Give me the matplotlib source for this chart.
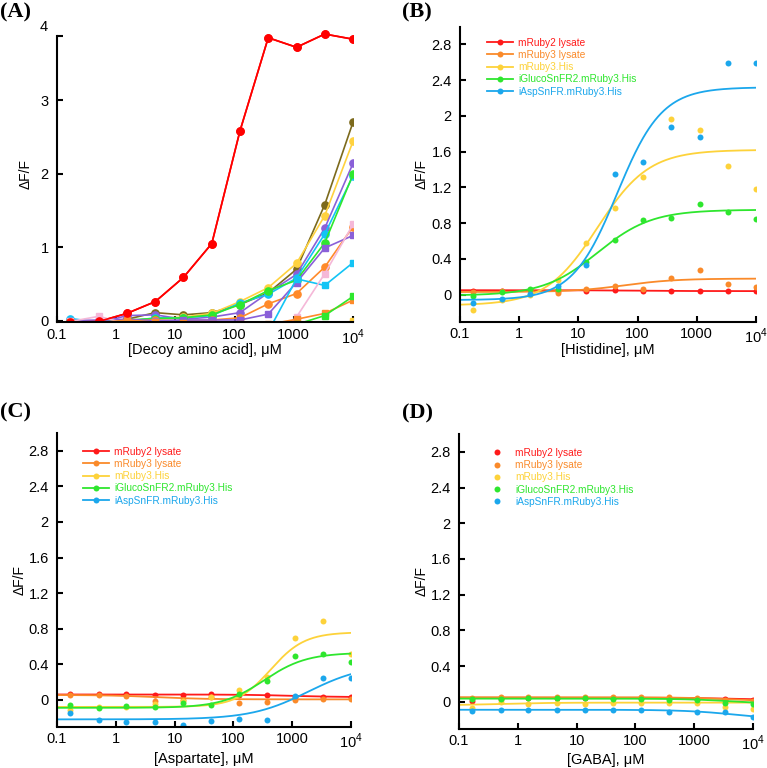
import numpy as np
import matplotlib
matplotlib.use("Agg")
import matplotlib.pyplot as plt
from matplotlib.lines import Line2D
import matplotlib.transforms as mtransforms

plt.rcParams['font.family'] = ['Liberation Sans', 'DejaVu Sans']
plt.rcParams['mathtext.fontset'] = 'custom'
plt.rcParams['mathtext.rm'] = 'Liberation Sans'

# concentrations (uM), 3-fold dilution series
conc = [0.169, 0.508, 1.52, 4.57, 13.7, 41.2, 123, 370, 1111, 3333, 10000]

# ---- panel A: decoy amino acids ----
decoy_colors = ['#ff0000', '#7c6a1c', '#ffd23f', '#8a60d8', '#13c4f5', '#2ee82e', '#ff8a2a',
                '#8a60d8', '#13c4f5', '#f5b8d8', '#ff8a2a', '#2ee82e', '#ffd23f']
decoy_markers = ['o', 'o', 'o', 'o', 'o', 'o', 'o', 's', 's', 's', 's', 's', 's']
decoy_vals = [
    [-0.02, -0.01, 0.10, 0.26, 0.59, 1.05, 2.58, 3.85, 3.72, 3.90, 3.83],
    [-0.01, -0.02, 0.02, 0.11, 0.08, 0.11, 0.22, 0.38, 0.70, 1.58, 2.70],
    [-0.03, -0.02, 0.00, 0.03, 0.05, 0.10, 0.26, 0.45, 0.78, 1.43, 2.44],
    [-0.03, -0.03, 0.07, 0.08, 0.02, 0.05, 0.11, 0.38, 0.63, 1.26, 2.14],
    [0.03, -0.02, -0.01, 0.04, 0.04, 0.07, 0.24, 0.36, 0.58, 1.18, 1.97],
    [-0.02, -0.02, 0.01, 0.03, 0.04, 0.08, 0.22, 0.41, 0.55, 1.06, 1.99],
    [-0.03, -0.04, 0.00, 0.01, 0.00, 0.01, 0.04, 0.23, 0.37, 0.73, 1.28],
    [0.00, 0.01, 0.02, 0.00, 0.01, 0.01, 0.01, 0.09, 0.52, 0.99, 1.16],
    [-0.08, -0.10, -0.10, -0.10, -0.10, -0.10, -0.10, -0.15, 0.57, 0.48, 0.79],
    [-0.01, 0.06, -0.04, -0.02, -0.10, -0.20, -0.30, -0.30, 0.05, 0.64, 1.31],
    [-0.02, -0.03, 0.01, -0.02, -0.03, -0.05, -0.05, -0.05, 0.02, 0.10, 0.28],
    [-0.05, -0.05, -0.10, -0.10, -0.10, -0.15, -0.20, -0.10, -0.05, 0.07, 0.33],
    [-0.06, -0.10, -0.10, -0.10, -0.10, -0.10, -0.10, -0.10, -0.10, -0.10, 0.00],
]

# ---- panels B-D ----
sensor_names = ['mRuby2 lysate', 'mRuby3 lysate', 'mRuby3.His',
                'iGlucoSnFR2.mRuby3.His', 'iAspSnFR.mRuby3.His']
sensor_colors = ['#ff1a1a', '#fa8a2a', '#fdd23a', '#2ee62e', '#1ba7ec']

his_vals = [
    [0.04, 0.04, 0.05, 0.04, 0.04, 0.05, 0.04, 0.04, 0.04, 0.04, 0.04],
    [0.03, 0.04, 0.05, 0.02, 0.06, 0.10, 0.06, 0.19, 0.28, 0.12, 0.09],
    [-0.17, -0.06, 0.00, 0.16, 0.58, 0.97, 1.32, 1.96, 1.84, 1.44, 1.18],
    [-0.01, 0.03, 0.06, 0.06, 0.37, 0.61, 0.84, 0.86, 1.02, 0.93, 0.85],
    [-0.09, -0.05, 0.01, 0.10, 0.33, 1.35, 1.48, 1.88, 1.76, 2.59, 2.59],
]
asp_vals = [
    [0.06, 0.06, 0.06, 0.05, 0.05, 0.06, 0.05, 0.05, 0.03, 0.03, 0.03],
    [0.05, 0.05, 0.04, -0.01, 0.00, 0.03, -0.04, -0.03, 0.00, 0.01, 0.01],
    [-0.11, -0.08, -0.08, -0.05, -0.01, 0.03, 0.11, 0.26, 0.69, 0.89, 0.52],
    [-0.06, -0.09, -0.07, -0.08, -0.04, -0.06, 0.07, 0.21, 0.49, 0.52, 0.42],
    [-0.15, -0.23, -0.25, -0.25, -0.28, -0.24, -0.22, -0.23, 0.04, 0.24, 0.24],
]
gaba_vals = [
    [0.01, 0.03, 0.04, 0.04, 0.04, 0.04, 0.04, 0.045, 0.03, 0.03, 0.015],
    [0.04, 0.05, 0.05, 0.05, 0.05, 0.05, 0.05, 0.05, 0.04, 0.02, 0.01],
    [-0.07, 0.00, -0.02, -0.01, -0.02, -0.01, -0.01, -0.01, -0.01, -0.06, -0.08],
    [0.03, 0.03, 0.045, 0.04, 0.04, 0.03, 0.03, 0.02, 0.02, -0.01, -0.02],
    [-0.10, -0.09, -0.09, -0.09, -0.09, -0.09, -0.09, -0.12, -0.12, -0.12, -0.17],
]

# Hill fit parameters: bottom, top, EC50 (uM), Hill slope
his_bottom = [0.05, 0.03, -0.12, -0.01, -0.06]
his_top = [0.04, 0.18, 1.62, 0.95, 2.32]
his_ec50 = [100, 60, 21, 21, 45]
his_n = [1.0, 1.0, 1.0, 0.95, 1.15]

asp_bottom = [0.06, 0.055, -0.08, -0.09, -0.22]
asp_top = [0.03, 0.005, 0.76, 0.53, 0.40]
asp_ec50 = [1000, 5, 430, 333, 1850]
asp_n = [1.0, 1.0, 1.5, 1.2, 0.9]

gaba_bottom = [0.045, 0.05, -0.04, 0.035, -0.09]
gaba_top = [0.02, 0.0, -0.01, -0.03, -0.20]
gaba_ec50 = [5000, 5000, 0.5, 5000, 5000]
gaba_n = [1.0, 1.0, 1.0, 1.0, 1.0]

xtick_vals = [0.1, 1, 10, 100, 1000, 10000]
xtick_labels = ['0.1', '1', '10', '100', '1000', '10$^4$']
ytick_vals = [0, 0.4, 0.8, 1.2, 1.6, 2.0, 2.4, 2.8]
ytick_labels = ['0', '0.4', '0.8', '1.2', '1.6', '2', '2.4', '2.8']


def hill(x, bottom, top, ec50, n):
    return bottom + (top - bottom) / (1 + (ec50 / x) ** n)


def style_axes(ax):
    ax.set_xscale('log')
    ax.set_xlim(0.1, 10000)
    ax.set_xticks(xtick_vals)
    ax.set_xticklabels(xtick_labels)
    ax.minorticks_off()
    ax.spines['top'].set_visible(False)
    ax.spines['right'].set_visible(False)
    for s in ['left', 'bottom']:
        ax.spines[s].set_linewidth(1.5)
    ax.tick_params(direction='in', length=4, width=1.5, labelsize=10.5, pad=4)
    ax.tick_params(axis='y', pad=6)


fig = plt.figure(figsize=(7.67, 7.68), dpi=100)
W, H = 767, 768


def add_axes(left, right, top, bottom):
    return fig.add_axes([left / W, 1 - bottom / H, (right - left) / W, (bottom - top) / H])


axA = add_axes(57, 353, 26.7, 322.2)
axB = add_axes(460, 756, 26.5, 321.5)
axC = add_axes(57, 351, 433, 726.5)
axD = add_axes(459, 753, 434, 728.5)

# panel A
for vals, c, m in zip(decoy_vals, decoy_colors, decoy_markers):
    ms = 5.2 if m == 'o' else 4.4
    axA.plot(conc, vals, color=c, marker=m, ms=ms, lw=1.2, mec=c, mfc=c)
# redraw red on top
axA.plot(conc, decoy_vals[0], color=decoy_colors[0], marker='o', ms=5.2, lw=1.2)
style_axes(axA)
axA.set_ylim(-0.02, 4.0)
axA.spines['left'].set_bounds(-0.02, 3.88)
axA.set_yticks([0, 1, 2, 3, 3.88])
axA.set_yticklabels(['0', '1', '2', '3', ''])
axA.text(-0.03, 4.0, '4', transform=mtransforms.blended_transform_factory(axA.transAxes, axA.transData),
         ha='right', va='center', fontsize=10.5)
axA.set_xlabel('[Decoy amino acid], \u03bcM', fontsize=10.5)
axA.set_ylabel('\u0394F/F', fontsize=10)
axA.xaxis.set_label_coords(0.5, -0.094)
axA.yaxis.set_label_coords(-0.105, 0.5)

xfit = np.logspace(-1, 4, 300)
panels = [
    (axB, his_vals, his_bottom, his_top, his_ec50, his_n, '[Histidine], \u03bcM', True, (0.09, 0.962), (-0.129, -0.097)),
    (axC, asp_vals, asp_bottom, asp_top, asp_ec50, asp_n, '[Aspartate], \u03bcM', True, (0.087, 0.953), (-0.126, -0.111)),
    (axD, gaba_vals, gaba_bottom, gaba_top, gaba_ec50, gaba_n, '[GABA], \u03bcM', False, (0.085, 0.953), (-0.127, -0.107)),
]

for ax, vals, bots, tops, ecs, ns, xlab, lined, leg_pos, lab_pos in panels:
    handles = []
    for i in range(5):
        c = sensor_colors[i]
        ax.plot(conc, vals[i], 'o', color=c, ms=4.3, mec='none')
        ax.plot(xfit, hill(xfit, bots[i], tops[i], ecs[i], ns[i]), color=c, lw=1.3)
        handles.append(Line2D([], [], color=c, marker='o', ms=4.3, mec='none',
                              lw=1.3 if lined else 0))
    style_axes(ax)
    ax.set_ylim(-0.3, 3.0)
    ax.set_yticks(ytick_vals)
    ax.set_yticklabels(ytick_labels)
    ax.set_xlabel(xlab, fontsize=10.5)
    ax.set_ylabel('\u0394F/F', fontsize=10)
    ax.xaxis.set_label_coords(0.5, lab_pos[1])
    ax.yaxis.set_label_coords(lab_pos[0], 0.5)
    leg = ax.legend(handles, sensor_names, loc='upper left', bbox_to_anchor=leg_pos,
                    frameon=False, fontsize=7.3, handlelength=2.6, handletextpad=0.5,
                    labelspacing=0.22, borderpad=0, borderaxespad=0)
    for txt, c in zip(leg.get_texts(), sensor_colors):
        txt.set_color(c)

for ax in [axA, axB, axC, axD]:
    ax.xaxis.label.set_va('center')
    ax.yaxis.label.set_va('center')

fig.text(0 / W, 1 - 12 / H, '(A)', fontsize=16, fontweight='bold', family='Liberation Serif', va='center')
fig.text(402 / W, 1 - 12 / H, '(B)', fontsize=16, fontweight='bold', family='Liberation Serif', va='center')
fig.text(0 / W, 1 - 412 / H, '(C)', fontsize=16, fontweight='bold', family='Liberation Serif', va='center')
fig.text(402 / W, 1 - 413 / H, '(D)', fontsize=16, fontweight='bold', family='Liberation Serif', va='center')

fig.savefig('out.png', dpi=100)
